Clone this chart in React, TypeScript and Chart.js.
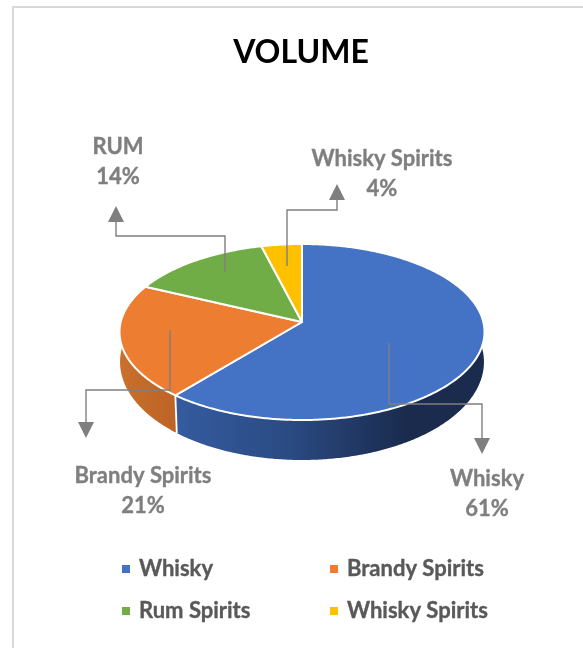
import React, { useEffect, useRef } from "react";
import { Chart, registerables } from "chart.js";

Chart.register(...registerables);

// Chart content
const categories = ["Whisky", "Brandy Spirits", "Rum Spirits", "Whisky Spirits"];
const shares = [61, 21, 14, 4];
const calloutNames = ["Whisky", "Brandy Spirits", "RUM", "Whisky Spirits"];
const chartTitle = "VOLUME";

// Styling
const faceColors = ["#4472c4", "#ed7d31", "#70ad47", "#ffc000"];
const FONT = "Lato, Carlito, sans-serif";
const LABEL_GREY = "#7f7f7f";
const LEGEND_GREY = "#595959";
const LABEL_SIZE = 22;

// Tilted-disc geometry: the rim of each plane is an ellipse whose centre sits
// below the projected pie centre, which is what gives the perspective look.
type Plane = { cx: number; cy: number; rx: number; ry: number; offset: number };
const topPlane: Plane = { cx: 302, cy: 332, rx: 181.3, ry: 88, offset: -10 };
const basePlane: Plane = { cx: 302, cy: 362, rx: 181, ry: 98, offset: -10 };

// Maps a clockwise-from-north angle on the unit disc (scaled by radius r) into a plane.
function project(p: Plane, theta: number, r = 1) {
  const x = r * Math.sin(theta);
  const y = -r * Math.cos(theta);
  const k = p.offset / p.ry;
  const w = 1 + k * y;
  return { x: p.cx + (p.rx * x) / w, y: p.cy + (p.ry * y + p.offset) / w };
}

function traceRim(ctx: CanvasRenderingContext2D, p: Plane, a: number, b: number, first: boolean) {
  const steps = Math.max(2, Math.ceil(Math.abs(b - a) / 0.01));
  for (let i = 0; i <= steps; i++) {
    const q = project(p, a + ((b - a) * i) / steps);
    if (first && i === 0) ctx.moveTo(q.x, q.y);
    else ctx.lineTo(q.x, q.y);
  }
}

// Leader lines: elbow runs ending in an arrow head, one per slice.
const leaders = [
  { path: [[389, 343], [389, 404], [482, 404], [482, 438]], dir: 1 },
  { path: [[170, 330], [170, 390], [86, 390], [86, 422]], dir: 1 },
  { path: [[225, 272], [225, 236], [116, 236], [116, 222]], dir: -1 },
  { path: [[287, 266], [287, 210], [337, 210], [337, 200]], dir: -1 },
];
const calloutAnchors = [
  [487, 479],
  [143, 476],
  [118, 147],
  [382, 159],
];
const legendSlots = [
  [122, 569],
  [330, 569],
  [122, 611],
  [330, 611],
];

// Bold text with a hairline outline so the strokes carry the same visual weight.
function heavyText(ctx: CanvasRenderingContext2D, text: string, x: number, y: number, color: string) {
  ctx.fillStyle = color;
  ctx.strokeStyle = color;
  ctx.lineWidth = 0.35;
  ctx.fillText(text, x, y);
  ctx.strokeText(text, x, y);
}

const pie3d = {
  id: "pie3d",
  beforeDraw(chart: Chart) {
    const { ctx, width, height } = chart;
    ctx.save();
    ctx.fillStyle = "#ffffff";
    ctx.fillRect(0, 0, width, height);
    ctx.fillStyle = "#d9d9d9";
    ctx.fillRect(12, 6, width - 12, 2);
    ctx.fillRect(12, 6, 2, height - 6);
    ctx.restore();
  },
  beforeDatasetsDraw(chart: Chart) {
    const { ctx } = chart;
    const arcs = chart.getDatasetMeta(0).data as any[];
    const spans = arcs.map((arc) => {
      const { startAngle, endAngle } = arc.getProps(["startAngle", "endAngle"], true);
      return [startAngle + Math.PI / 2, endAngle + Math.PI / 2];
    });

    ctx.save();
    ctx.lineJoin = "round";

    // Side wall
    const blueWall = ctx.createLinearGradient(177, 0, 405, 0);
    blueWall.addColorStop(0, "#355b9e");
    blueWall.addColorStop(0.5, "#2a4a82");
    blueWall.addColorStop(1, "#1a2b4e");
    const orangeWall = ctx.createLinearGradient(120, 0, 177, 0);
    orangeWall.addColorStop(0, "#c9702c");
    orangeWall.addColorStop(1, "#bc6327");
    const walls = [blueWall, orangeWall, "#4f7a32", "#b38600"];
    for (let i = spans.length - 1; i >= 0; i--) {
      const [a, b] = spans[i];
      ctx.beginPath();
      traceRim(ctx, topPlane, a, b, true);
      traceRim(ctx, basePlane, b, a, false);
      ctx.closePath();
      ctx.fillStyle = walls[i];
      ctx.fill();
    }
    // Seam where the two visible wall segments meet
    const seamTop = project(topPlane, spans[0][1]);
    const seamBase = project(basePlane, spans[0][1]);
    ctx.strokeStyle = "#ffffff";
    ctx.lineWidth = 1.8;
    ctx.beginPath();
    ctx.moveTo(seamTop.x, seamTop.y);
    ctx.lineTo(seamBase.x, seamBase.y);
    ctx.stroke();

    // Top face
    const apex = { x: topPlane.cx, y: topPlane.cy + topPlane.offset };
    spans.forEach(([a, b], i) => {
      ctx.beginPath();
      ctx.moveTo(apex.x, apex.y);
      traceRim(ctx, topPlane, a, b, false);
      ctx.closePath();
      ctx.fillStyle = faceColors[i];
      ctx.fill();
      ctx.strokeStyle = "#ffffff";
      ctx.lineWidth = 2;
      ctx.stroke();
    });
    ctx.restore();
    return false;
  },
  afterDraw(chart: Chart) {
    const { ctx } = chart;
    ctx.save();

    // Leader lines with arrow heads
    leaders.forEach(({ path, dir }) => {
      ctx.strokeStyle = LABEL_GREY;
      ctx.lineWidth = 1.4;
      ctx.beginPath();
      path.forEach(([x, y], i) => (i === 0 ? ctx.moveTo(x, y) : ctx.lineTo(x, y)));
      ctx.stroke();
      const [hx, hy] = path[path.length - 1];
      ctx.fillStyle = LABEL_GREY;
      ctx.beginPath();
      ctx.moveTo(hx - 8, hy);
      ctx.lineTo(hx + 8, hy);
      ctx.lineTo(hx, hy + dir * 16);
      ctx.closePath();
      ctx.fill();
    });

    // Callout labels: name above percentage
    ctx.textAlign = "center";
    ctx.textBaseline = "middle";
    ctx.font = `bold ${LABEL_SIZE}px ${FONT}`;
    calloutNames.forEach((name, i) => {
      const [x, y] = calloutAnchors[i];
      heavyText(ctx, name, x, y, LABEL_GREY);
      heavyText(ctx, `${shares[i]}%`, x, y + 29.5, LABEL_GREY);
    });

    // Two-column legend
    ctx.textAlign = "left";
    categories.forEach((name, i) => {
      const [x, y] = legendSlots[i];
      ctx.fillStyle = faceColors[i];
      ctx.fillRect(x, y - 4, 8, 8);
      heavyText(ctx, name, x + 17, y, LEGEND_GREY);
    });
    ctx.restore();
  },
};

export default function App() {
  const ref = useRef<HTMLCanvasElement>(null);
  useEffect(() => {
    const chart = new Chart(ref.current!, {
      type: "pie",
      data: {
        labels: categories,
        datasets: [{ data: shares, backgroundColor: faceColors, borderColor: "#ffffff" }],
      },
      options: {
        responsive: false,
        animation: false,
        layout: { padding: { left: 19 } },
        plugins: {
          legend: { display: false },
          tooltip: { enabled: false },
          title: {
            display: true,
            text: chartTitle,
            color: "#000000",
            font: { family: FONT, size: 32, weight: "bold", lineHeight: 1.2 },
            padding: { top: 33, bottom: 10 },
          },
        },
      },
      plugins: [pie3d],
    } as any);
    return () => chart.destroy();
  }, []);
  return (
    <div style={{ position: "absolute", left: 0, top: 0, width: 583, height: 648, background: "#fff" }}>
      <canvas ref={ref} width={583} height={648} style={{ display: "block" }} />
    </div>
  );
}
